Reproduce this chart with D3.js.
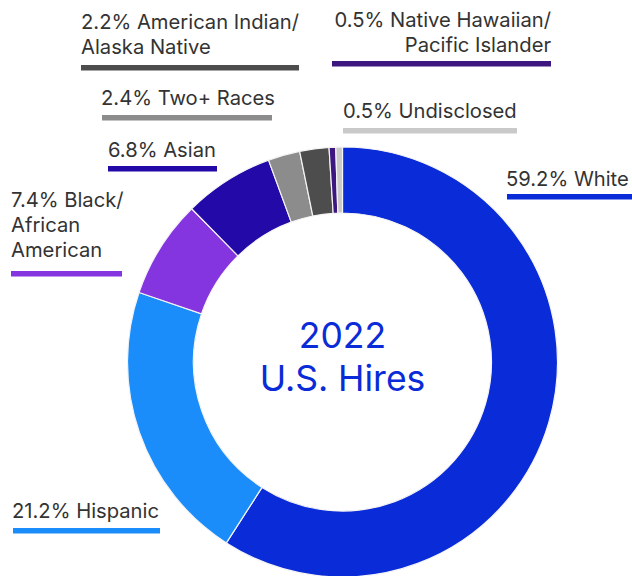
<!DOCTYPE html>
<html>
<head>
<meta charset="utf-8">
<script src="https://cdn.jsdelivr.net/npm/d3@7"></script>
<style>
  html, body { margin: 0; padding: 0; background: #fff; }
  svg { display: block; }
  text { font-family: Inter, "Noto Sans", Roboto, sans-serif; }
</style>
</head>
<body>
<svg id="chart" width="632" height="576"></svg>
<script>
// Share of 2022 U.S. hires by race / ethnicity, clockwise from 12 o'clock
const categories = [
  "White", "Hispanic", "Black/African American", "Asian", "Two+ Races",
  "American Indian/Alaska Native", "Native Hawaiian/Pacific Islander", "Undisclosed"
];
const values = [59.2, 21.2, 7.4, 6.8, 2.4, 2.2, 0.5, 0.5];
const labelLines = [
  ["59.2% White"],
  ["21.2% Hispanic"],
  ["7.4% Black/", "African", "American"],
  ["6.8% Asian"],
  ["2.4% Two+ Races"],
  ["2.2% American Indian/", "Alaska Native"],
  ["0.5% Native Hawaiian/", "Pacific Islander"],
  ["0.5% Undisclosed"]
];
const colors = ["#0a2bd8", "#1a8dfb", "#8535df", "#2209a8", "#8c8c8c", "#4d4d4d", "#3d1680", "#c9c9c9"];
const centerTitle = ["2022", "U.S. Hires"];

// Callout placement: x/anchor of text, first baseline, bar span and bar y
const callouts = [
  { x: 506, anchor: "start", y: 186, bar: [507, 632], barY: 194 },
  { x: 12,  anchor: "start", y: 518, bar: [13, 160],  barY: 528 },
  { x: 11,  anchor: "start", y: 207, bar: [11, 122],  barY: 271 },
  { x: 108, anchor: "start", y: 157, bar: [108, 217], barY: 166 },
  { x: 101, anchor: "start", y: 105, bar: [102, 272], barY: 115 },
  { x: 81,  anchor: "start", y: 29,  bar: [81, 299],  barY: 65 },
  { x: 551, anchor: "end",   y: 27,  bar: [332, 551], barY: 61 },
  { x: 343, anchor: "start", y: 118, bar: [343, 517], barY: 128 }
];

const svg = d3.select("#chart");
const cx = 342.5, cy = 362, outerR = 215, innerR = 149;

const data = categories.map((c, i) => ({ category: c, value: values[i], color: colors[i], lines: labelLines[i], pos: callouts[i] }));

const pie = d3.pie().sort(null).value(d => d.value);
const arc = d3.arc().innerRadius(innerR).outerRadius(outerR);

const g = svg.append("g").attr("transform", `translate(${cx},${cy})`);
g.selectAll("path")
  .data(pie(data))
  .join("path")
  .attr("d", arc)
  .attr("fill", d => d.data.color)
  .attr("stroke", "#f4f4f4")
  .attr("stroke-width", 1.2);

// Centre title
g.append("text")
  .attr("text-anchor", "middle")
  .attr("fill", "#0a2bd8")
  .attr("font-size", 35.5)
  .selectAll("tspan")
  .data(centerTitle)
  .join("tspan")
  .attr("x", 0)
  .attr("y", (d, i) => -14 + i * 43)
  .text(d => d);

// Callout labels with coloured underline bars
const lineH = 25;
const labels = svg.append("g");
data.forEach(d => {
  const p = d.pos;
  labels.append("text")
    .attr("text-anchor", p.anchor)
    .attr("fill", "#333")
    .attr("font-size", 20.2)
    .selectAll("tspan")
    .data(d.lines)
    .join("tspan")
    .attr("x", p.x)
    .attr("y", (t, i) => p.y + i * lineH)
    .text(t => t);
  labels.append("rect")
    .attr("x", p.bar[0])
    .attr("y", p.barY)
    .attr("width", p.bar[1] - p.bar[0])
    .attr("height", 5.5)
    .attr("fill", d.color);
});
</script>
</body>
</html>
